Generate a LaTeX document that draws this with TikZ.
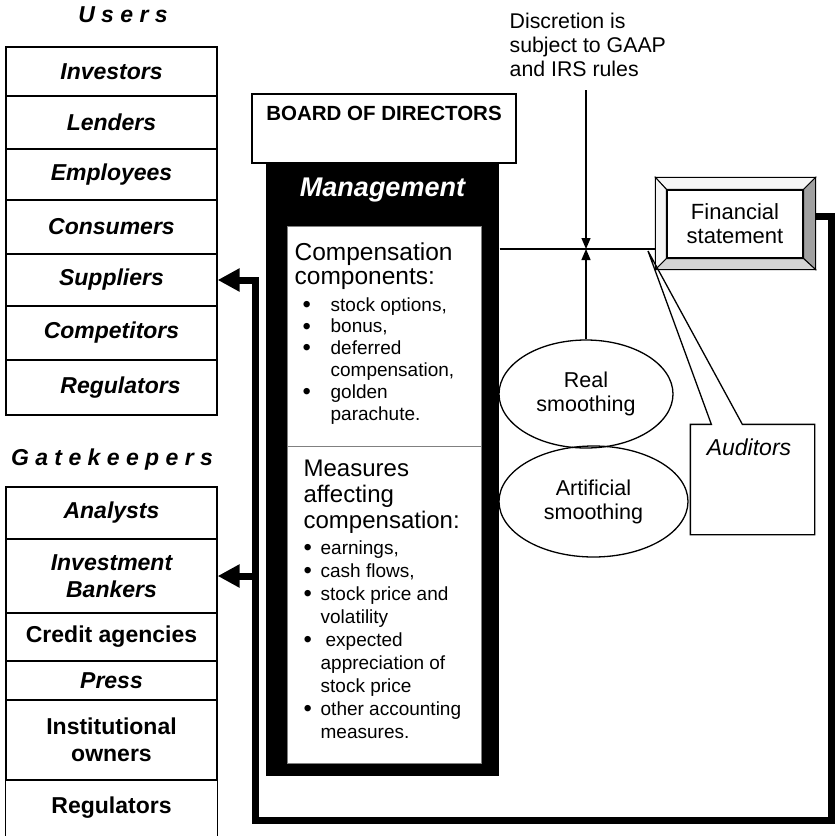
\documentclass[tikz,border=0pt]{standalone}
\usepackage{fontspec}
\usepackage{graphicx}
\setmainfont{Liberation Sans}
\usetikzlibrary{arrows.meta,shapes.geometric}
\definecolor{bevR}{RGB}{160,160,160}
\definecolor{bevB}{RGB}{212,212,212}
\definecolor{bevT}{RGB}{245,245,245}
\newcommand\bul[1]{\makebox[#1][l]{\raisebox{-1.2pt}{\scalebox{1.25}{\textbullet}}}}
\begin{document}
\begin{tikzpicture}[x=1pt,y=-1pt,line width=1.3pt,
  rowbox/.style={draw, minimum width=211pt, inner sep=0pt, align=center,
     font=\fontsize{23}{27}\selectfont\bfseries\itshape},
  rowup/.style={rowbox, font=\fontsize{23}{27}\selectfont\bfseries},
  title/.style={font=\fontsize{23}{27}\selectfont\bfseries\itshape, inner sep=0pt},
  panel/.style={fill=white, draw=gray, line width=1pt, minimum width=194pt, inner sep=0pt},
  oval/.style={draw, ellipse, inner sep=0pt, align=center, font=\fontsize{21.5}{24}\selectfont},
  fb/.style={line width=7pt},
  fbtip/.style={-{Triangle[length=22pt,width=22pt]}},
  smalltip/.style={-{Triangle[length=11pt,width=9pt]}}
]
\useasboundingbox (0,0) rectangle (837,835);

% ---------- Users ----------
\node[title] (utitle) at (123,15) {U s e r s};
\node[rowbox, minimum height=49pt] (inv)  at (111.5,71.5) {Investors};
\node[rowbox, minimum height=53pt] (len)  at (111.5,122.5) {Lenders};
\node[rowbox, minimum height=51pt] (emp)  at (111.5,174.5) {Employees};
\node[rowbox, minimum height=54pt] (con)  at (111.5,227) {Consumers};
\node[rowbox, minimum height=52pt] (sup)  at (111.5,280) {Suppliers};
\node[rowbox, minimum height=54pt] (cmp)  at (111.5,333) {Competitors};
\node[rowbox, minimum height=55pt] (reg)  at (111.5,387.5) {\hspace*{18pt}Regulators};

% ---------- Gatekeepers ----------
\node[title] (gtitle) at (112,460) {G a t e k e e p e r s};
\node[rowbox, minimum height=52pt] (ana)  at (111.5,513) {Analysts};
\node[rowbox, minimum height=74pt] (ib)   at (111.5,576) {Investment\\Bankers};
\node[rowup, minimum height=48pt]  (cred) at (111.5,637) {Credit agencies};
\node[rowbox, minimum height=39pt] (prs)  at (111.5,680.5) {Press};
\node[rowup, minimum height=80pt]  (inst) at (111.5,740) {Institutional\\owners};
\node[rowup, draw=none, minimum height=55pt] (reg2) at (111.5,807.5) {Regulators};
\draw (reg2.south west) -- (reg2.north west) -- (reg2.north east) -- (reg2.south east);

% ---------- Board and Management ----------
\node[draw, minimum width=264pt, minimum height=69pt, inner sep=0pt] (board) at (384,128.5) {};
\node[inner sep=0pt, font=\fontsize{20.5}{24}\selectfont\bfseries] (boardtxt) at (384,113) {BOARD OF DIRECTORS};
\node[fill=black, minimum width=233pt, minimum height=613pt, inner sep=0pt] (mgmt) at (382.5,469.5) {};
\node[inner sep=0pt, text=white, font=\fontsize{27}{30}\selectfont\bfseries\itshape] (mgmttxt) at (382.5,190) {Management};
\node[panel, minimum height=220pt] (p1) at (384,336) {};
\node[panel, minimum height=317pt] (p2) at (384,604.5) {};

\node[anchor=base west, inner sep=0pt, font=\fontsize{24.5}{24}\selectfont] (comph) at (294,260)
  {\begin{tabular}[t]{@{}l@{}}Compensation\\components:\end{tabular}};
\node[anchor=base west, inner sep=0pt, font=\fontsize{19}{21.8}\selectfont] (compl) at (302,311)
  {\begin{tabular}[t]{@{}l@{}l@{}}
   \bul{28pt} & stock options,\\
   \bul{28pt} & bonus,\\
   \bul{28pt} & deferred\\
              & compensation,\\
   \bul{28pt} & golden\\
              & parachute.
  \end{tabular}};
\node[anchor=base west, inner sep=0pt, font=\fontsize{24}{26}\selectfont] (meash) at (303,476)
  {\begin{tabular}[t]{@{}l@{}}Measures\\affecting\\compensation:\end{tabular}};
\node[anchor=base west, inner sep=0pt, font=\fontsize{19}{23}\selectfont] (measl) at (303,554)
  {\begin{tabular}[t]{@{}l@{}l@{}}
   \bul{17pt} & earnings,\\
   \bul{17pt} & cash flows,\\
   \bul{17pt} & stock price and\\
              & volatility\\
   \bul{17pt} & \hspace*{5pt}expected\\
              & appreciation of\\
              & stock price\\
   \bul{17pt} & other accounting\\
              & measures.
  \end{tabular}};

% ---------- Discretion ----------
\node[anchor=base west, inner sep=0pt, font=\fontsize{21.3}{24}\selectfont] (disc) at (509,28)
  {\begin{tabular}[t]{@{}l@{}}Discretion is\\subject to GAAP\\and IRS rules\end{tabular}};
\coordinate (dtop) at (586,90);
\coordinate (j) at (586,249);

% ---------- Financial statement ----------
\node[minimum width=159pt, minimum height=91pt, inner sep=0pt] (fsout) at (735.5,223.5) {};
\node[minimum width=136pt, minimum height=68pt, inner sep=0pt] (fsin) at (735,224) {};
\draw[line width=1pt, fill=bevT] (fsout.north west) -- (fsout.north east) -- (fsin.north east) -- (fsin.north west) -- cycle;
\draw[line width=1pt, fill=bevT] (fsout.north west) -- (fsin.north west) -- (fsin.south west) -- (fsout.south west) -- cycle;
\draw[line width=1pt, fill=bevR] (fsout.north east) -- (fsout.south east) -- (fsin.south east) -- (fsin.north east) -- cycle;
\draw[line width=1pt, fill=bevB] (fsout.south west) -- (fsout.south east) -- (fsin.south east) -- (fsin.south west) -- cycle;
\node[draw, fill=white, minimum width=136pt, minimum height=68pt, inner sep=0pt, align=center,
      font=\fontsize{22}{24}\selectfont] (fs) at (735,224) {Financial\\statement};

% ---------- Smoothing ----------
\node[oval, minimum width=174pt, minimum height=108pt] (real) at (586,394) {Real\\smoothing};
\node[oval, minimum width=189pt, minimum height=111pt] (art) at (593.5,501.5) {Artificial\\smoothing};

% ---------- Auditors callout ----------
\node[minimum width=123pt, minimum height=109pt, inner sep=0pt] (aud) at (752.5,479.5) {};
\coordinate (audtip) at (648,251);
\draw (aud.north west) -- ([xshift=21pt]aud.north west) -- (audtip) -- ([xshift=52pt]aud.north west)
      -- (aud.north east) -- (aud.south east) -- (aud.south west) -- cycle;
\node[inner sep=0pt, font=\fontsize{23}{27}\selectfont\itshape] (audtxt) at (749,447) {Auditors};

% ---------- Connectors ----------
\draw (j -| mgmt.east) -- (j -| fsout.west);
\draw[smalltip] (dtop) -- (j);
\draw[smalltip] (real.north) -- (j);

\coordinate (c1) at (831,216);
\coordinate (c2) at (831,820);
\coordinate (c3) at (255,820);
\draw[fb, fbtip] (fsout.east |- c1) -- (c1) -- (c2) -- (c3) -- (c3 |- sup.east) -- (sup.east);
\draw[fb, fbtip] (c3 |- ib.east) -- (ib.east);
\end{tikzpicture}
\end{document}
